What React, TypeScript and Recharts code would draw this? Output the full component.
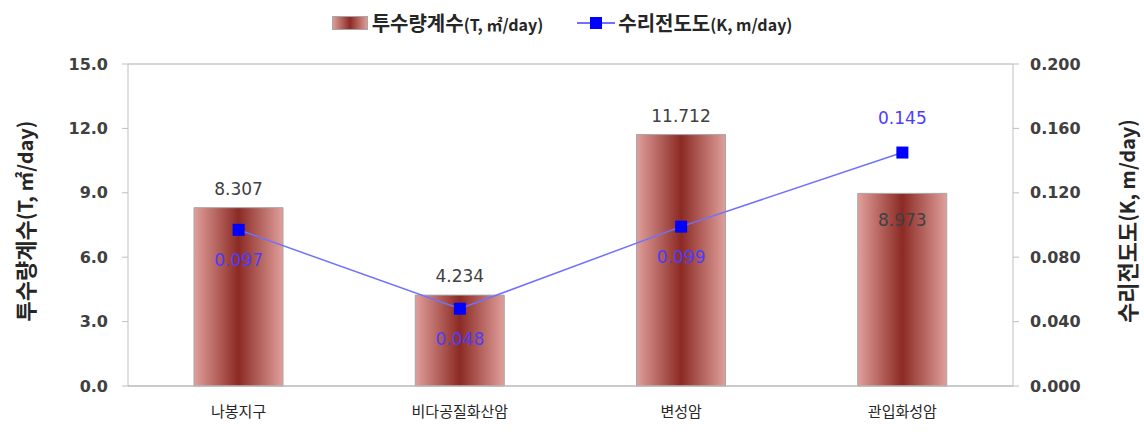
import {
  ComposedChart,
  Bar,
  Line,
  XAxis,
  YAxis,
  CartesianGrid,
  Legend,
  LabelList,
} from "recharts";

const categories = ["나봉지구", "비다공질화산암", "변성암", "관입화성암"];
const transmissivity = [8.307, 4.234, 11.712, 8.973];
const conductivity = [0.097, 0.048, 0.099, 0.145];
const leftTicks = [0, 3, 6, 9, 12, 15];
const rightTicks = [0, 0.04, 0.08, 0.12, 0.16, 0.2];

const data = categories.map((name, i) => ({
  name,
  T: transmissivity[i],
  K: conductivity[i],
}));

const FONT = "'Noto Sans CJK KR', 'DejaVu Sans', sans-serif";
const NUM_FONT = "'DejaVu Sans', sans-serif";
const AXIS = "#bfbfbf";

const SquareDot = (props: any) => {
  const { cx, cy } = props;
  if (cx == null || cy == null) return null;
  return <rect x={cx - 6} y={cy - 6} width={12} height={12} fill="#0000ff" />;
};

const BarLabel = (props: any) => {
  const { x, y, width, value, index } = props;
  const inside = index === 3;
  return (
    <text
      x={x + width / 2}
      y={inside ? y + 33 : y - 13}
      textAnchor="middle"
      fontFamily={NUM_FONT}
      fontSize={17}
      fill="#404040"
    >
      {value.toFixed(3)}
    </text>
  );
};

const LineLabel = (props: any) => {
  const { x, y, value, index } = props;
  const above = index === 3;
  return (
    <text
      x={x}
      y={above ? y - 29 : y + 36}
      textAnchor="middle"
      fontFamily={NUM_FONT}
      fontSize={17}
      fill="#4b3cff"
    >
      {value.toFixed(3)}
    </text>
  );
};

const AxisTitle = ({ viewBox, main, unit, side }: any) => {
  const cx = side === "left" ? viewBox.x + 4 : viewBox.x + viewBox.width + 13;
  const cy = viewBox.y + viewBox.height / 2 - 4;
  return (
    <text
      x={cx}
      y={cy}
      transform={`rotate(-90, ${cx}, ${cy})`}
      textAnchor="middle"
      dominantBaseline="central"
      fontFamily={FONT}
      fontWeight={700}
      fill="#262626"
      fontSize={22}
    >
      {main}
      <tspan fontSize={20}>{unit}</tspan>
    </text>
  );
};

const LegendContent = () => (
  <div
    style={{
      display: "flex",
      justifyContent: "center",
      alignItems: "center",
      fontFamily: FONT,
      fontWeight: 700,
      color: "#262626",
      fontSize: 20,
      paddingRight: 20,
    }}
  >
    <svg width={36} height={14} style={{ marginRight: 4 }}>
      <defs>
        <linearGradient id="legGrad" x1="0" y1="0" x2="1" y2="0">
          <stop offset="0%" stopColor="#e09f9b" />
          <stop offset="50%" stopColor="#8c2a24" />
          <stop offset="100%" stopColor="#e09f9b" />
        </linearGradient>
      </defs>
      <rect x={0.5} y={0.5} width={35} height={13} fill="url(#legGrad)" stroke="#a6a6a6" />
    </svg>
    <span>
      투수량계수<span style={{ fontSize: 16 }}>(T, ㎡/day)</span>
    </span>
    <svg width={38} height={14} style={{ marginLeft: 34, marginRight: 3 }}>
      <line x1={0} y1={7} x2={38} y2={7} stroke="#7070ff" strokeWidth={2} />
      <rect x={13} y={1} width={12} height={12} fill="#0000ff" />
    </svg>
    <span>
      수리전도도<span style={{ fontSize: 16 }}>(K, m/day)</span>
    </span>
  </div>
);

export default function App() {
  return (
    <div style={{ position: "absolute", left: 0, top: 0, background: "#fff" }}>
      <ComposedChart
        width={1144}
        height={439}
        data={data}
        margin={{ top: 35, right: 31, bottom: 23, left: 20 }}
      >
        <defs>
          <linearGradient id="barGrad" x1="0" y1="0" x2="1" y2="0">
            <stop offset="0%" stopColor="#e09f9b" />
            <stop offset="50%" stopColor="#8c2a24" />
            <stop offset="100%" stopColor="#e09f9b" />
          </linearGradient>
        </defs>
        <CartesianGrid vertical={false} stroke="#c8c8c8" strokeWidth={1.5} />
        <XAxis
          dataKey="name"
          height={30}
          stroke={AXIS}
          tickLine={false}
          tick={{ fontFamily: FONT, fontSize: 15, fill: "#262626" }}
          tickMargin={14}
        />
        <YAxis
          yAxisId="left"
          domain={[0, 15]}
          ticks={leftTicks}
          width={108}
          stroke={AXIS}
          tickSize={6}
          tickMargin={14}
          tickFormatter={(v: number) => v.toFixed(1)}
          tick={{ fontFamily: NUM_FONT, fontSize: 16, fontWeight: 700, fill: "#404040" }}
          label={<AxisTitle side="left" main="투수량계수" unit="(T, ㎡/day)" />}
        />
        <YAxis
          yAxisId="right"
          orientation="right"
          domain={[0, 0.2]}
          ticks={rightTicks}
          width={100}
          stroke={AXIS}
          tickSize={6}
          tickMargin={11}
          tickFormatter={(v: number) => v.toFixed(3)}
          tick={{ fontFamily: NUM_FONT, fontSize: 16, fontWeight: 700, fill: "#404040" }}
          label={<AxisTitle side="right" main="수리전도도" unit="(K, m/day)" />}
        />
        <Legend
          verticalAlign="top"
          content={<LegendContent />}
          wrapperStyle={{ top: 8, left: 0, width: 1144 }}
        />
        <Bar
          yAxisId="left"
          dataKey="T"
          name="투수량계수(T, ㎡/day)"
          barSize={89}
          fill="url(#barGrad)"
          stroke="#a6a6a6"
          isAnimationActive={false}
        >
          <LabelList dataKey="T" content={<BarLabel />} />
        </Bar>
        <Line
          yAxisId="right"
          dataKey="K"
          name="수리전도도(K, m/day)"
          stroke="#7070ff"
          strokeWidth={1.5}
          dot={<SquareDot />}
          activeDot={false}
          isAnimationActive={false}
        >
          <LabelList dataKey="K" content={<LineLabel />} />
        </Line>
      </ComposedChart>
    </div>
  );
}
